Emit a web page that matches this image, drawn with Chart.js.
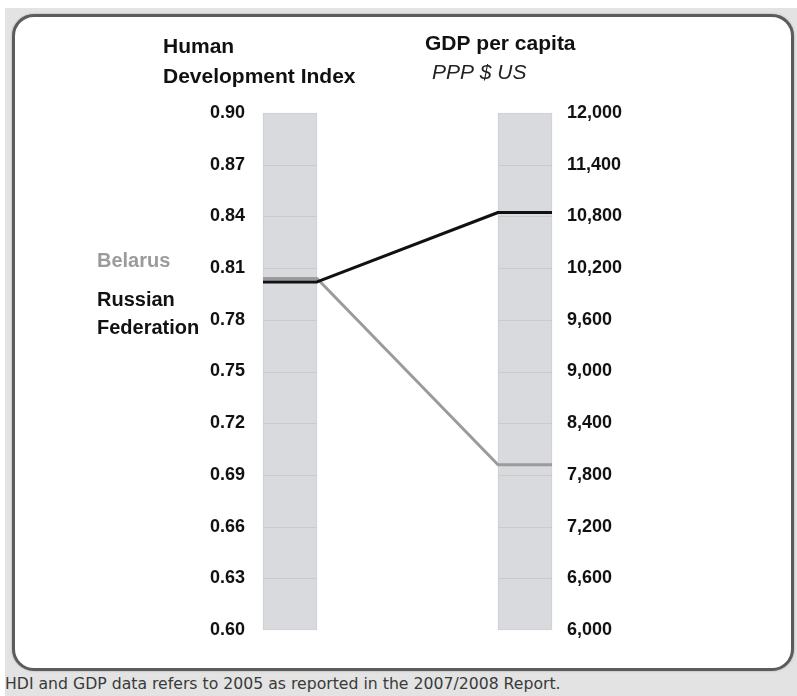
<!DOCTYPE html>
<html>
<head>
<meta charset="utf-8">
<script src="https://cdn.jsdelivr.net/npm/chart.js@4"></script>
<style>
  html, body { margin: 0; padding: 0; background: #fff; }
  #wrap { position: relative; width: 797px; height: 696px; overflow: hidden; }
  #bg { position: absolute; left: 5px; top: 8px; right: 0; bottom: 0; background: #e3e3e3; }
  #panel {
    position: absolute; left: 12px; top: 14px; width: 782px; height: 657px;
    box-sizing: border-box; background: #fff;
    border: 3px solid #5c5c5c; border-radius: 22px;
    box-shadow: 0 0 2px #999;
  }
  #caption {
    position: absolute; left: 5px; top: 674px;
    font: 15.7px "DejaVu Sans", Verdana, sans-serif; color: #3a3a3a; white-space: nowrap;
  }
  canvas { position: absolute; left: 0; top: 0; }
</style>
</head>
<body>
<div id="wrap">
  <div id="bg"></div>
  <div id="panel"></div>
  <div id="caption">HDI and GDP data refers to 2005 as reported in the 2007/2008 Report.</div>
  <canvas id="chart" width="797" height="696"></canvas>
</div>
<script>
// data
const countries = ["Belarus", "Russian Federation"];
const hdiValues = [0.804, 0.802];
const gdpValues = [7918, 10845];
const hdiRange = [0.60, 0.90];
const gdpRange = [6000, 12000];
const hdiTicks = [0.60, 0.63, 0.66, 0.69, 0.72, 0.75, 0.78, 0.81, 0.84, 0.87, 0.90];
const gdpTicks = [6000, 6600, 7200, 7800, 8400, 9000, 9600, 10200, 10800, 11400, 12000];

const countryColors = ["#9b9b9b", "#111111"];
const tickFont = { family: "'Liberation Sans', Arial, sans-serif", size: 18, weight: "bold" };

// connector lines, in-bar grid lines, headings and country labels
const connectors = {
  id: "connectors",
  afterDatasetsDraw(chart) {
    const ctx = chart.ctx;
    const yH = chart.scales.yHdi;
    const yG = chart.scales.yGdp;
    const hBar = chart.getDatasetMeta(0).data[0];
    const gBar = chart.getDatasetMeta(1).data[0];
    const hL = hBar.x - hBar.width / 2, hR = hBar.x + hBar.width / 2;
    const gL = gBar.x - gBar.width / 2, gR = gBar.x + gBar.width / 2;

    ctx.save();
    // grid lines inside the bars
    ctx.strokeStyle = "#c9cbcf";
    ctx.lineWidth = 1;
    hdiTicks.slice(1, -1).forEach(v => {
      const y = Math.round(yH.getPixelForValue(v)) + 0.5;
      ctx.beginPath(); ctx.moveTo(hL, y); ctx.lineTo(hR, y); ctx.stroke();
    });
    gdpTicks.slice(1, -1).forEach(v => {
      const y = Math.round(yG.getPixelForValue(v)) + 0.5;
      ctx.beginPath(); ctx.moveTo(gL, y); ctx.lineTo(gR, y); ctx.stroke();
    });

    // country lines
    ctx.lineWidth = 3;
    ctx.lineJoin = "round";
    countries.forEach((c, i) => {
      const hy = yH.getPixelForValue(hdiValues[i]);
      const gy = yG.getPixelForValue(gdpValues[i]);
      ctx.strokeStyle = countryColors[i];
      ctx.beginPath();
      ctx.moveTo(hL, hy);
      ctx.lineTo(hR, hy);
      ctx.lineTo(gL, gy);
      ctx.lineTo(gR, gy);
      ctx.stroke();
    });

    // country labels
    ctx.font = "bold 20px 'Liberation Sans', Arial, sans-serif";
    ctx.textAlign = "left";
    ctx.textBaseline = "middle";
    const yBel = yH.getPixelForValue(hdiValues[0]);
    const yRus = yH.getPixelForValue(hdiValues[1]);
    ctx.fillStyle = countryColors[0];
    ctx.fillText("Belarus", 97, yBel - 17);
    ctx.fillStyle = countryColors[1];
    ctx.fillText("Russian", 97, yRus + 19);
    ctx.fillText("Federation", 97, yRus + 47);

    // headings
    ctx.fillStyle = "#111";
    ctx.font = "bold 21px 'Liberation Sans', Arial, sans-serif";
    ctx.fillText("Human", 163, 47);
    ctx.fillText("Development Index", 163, 77);
    ctx.fillText("GDP per capita", 425, 44);
    ctx.font = "italic 21px 'Liberation Sans', Arial, sans-serif";
    ctx.fillStyle = "#222";
    ctx.fillText("PPP $ US", 432, 73);
    ctx.restore();
  }
};

new Chart(document.getElementById("chart"), {
  type: "bar",
  data: {
    datasets: [
      {
        label: "Human Development Index",
        data: [{ x: 0, y: hdiRange }],
        yAxisID: "yHdi",
        backgroundColor: "#d9dadd",
        borderColor: "#cdcfd2",
        borderWidth: 1,
        borderSkipped: false,
        barThickness: 54,
        grouped: false,
        clip: false
      },
      {
        label: "GDP per capita",
        data: [{ x: 1, y: gdpRange }],
        yAxisID: "yGdp",
        backgroundColor: "#d9dadd",
        borderColor: "#cdcfd2",
        borderWidth: 1,
        borderSkipped: false,
        barThickness: 54,
        grouped: false,
        clip: false
      }
    ]
  },
  options: {
    responsive: false,
    animation: false,
    layout: { padding: { top: 113, bottom: 66, left: 0, right: 0 } },
    plugins: { legend: { display: false }, tooltip: { enabled: false } },
    scales: {
      x: { type: "linear", min: 0, max: 1, offset: false, display: false },
      yHdi: {
        position: "left",
        min: hdiRange[0],
        max: hdiRange[1],
        afterBuildTicks: s => { s.ticks = hdiTicks.map(v => ({ value: v })); },
        afterFit: s => { s.width = 290; },
        grid: { display: false, drawTicks: false },
        border: { display: false },
        ticks: {
          padding: 45,
          color: "#111",
          font: tickFont,
          callback: v => Number(v).toFixed(2)
        }
      },
      yGdp: {
        position: "right",
        min: gdpRange[0],
        max: gdpRange[1],
        afterBuildTicks: s => { s.ticks = gdpTicks.map(v => ({ value: v })); },
        afterFit: s => { s.width = 272; },
        grid: { display: false, drawTicks: false },
        border: { display: false },
        ticks: {
          padding: 42,
          color: "#111",
          font: tickFont,
          callback: v => Number(v).toLocaleString("en-US")
        }
      }
    }
  },
  plugins: [connectors]
});
</script>
</body>
</html>
